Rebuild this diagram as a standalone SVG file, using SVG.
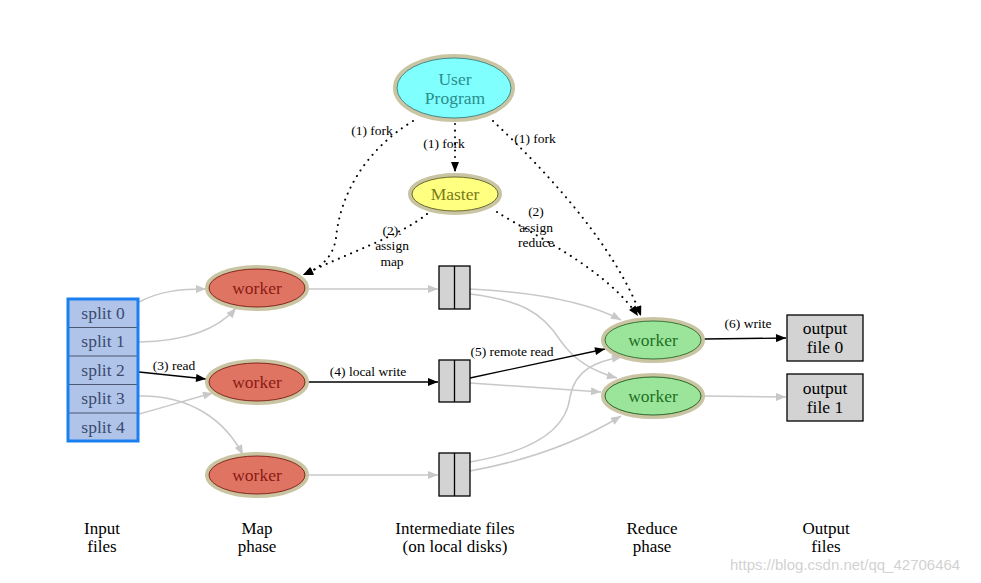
<svg xmlns="http://www.w3.org/2000/svg" width="981" height="583" viewBox="0 0 981 583" font-family="'Liberation Serif', 'DejaVu Serif', 'Times New Roman', serif">
<style>
text{font-family:"Liberation Serif","DejaVu Serif","Times New Roman",serif;text-anchor:middle}
.nt{font-size:17.5px}
.lb{font-size:13.5px;fill:#000}
.ax{font-size:17px;fill:#000}
.halo{stroke:#c9c4a2;stroke-width:4}
.in{fill:none;stroke-width:0.9}
.gray{fill:none;stroke:#c8c8c8;stroke-width:1.5}
.blk{fill:none;stroke:#000;stroke-width:1.3}
.dot{fill:none;stroke:#000;stroke-width:2;stroke-dasharray:0.1 6.5;stroke-linecap:round}
.file{fill:#d3d3d3;stroke:#000;stroke-width:1.3}
text.wm{font-family:"Liberation Sans Narrow","Liberation Sans",Arial,sans-serif;font-size:15px;fill:#d2d2d2;text-anchor:start}
</style>
<defs>
<marker id="ab" viewBox="0 0 10 8" refX="10" refY="4" markerWidth="11" markerHeight="8" markerUnits="userSpaceOnUse" orient="auto"><path d="M0,0 L10,4 L0,8 z" fill="#000"/></marker>
<marker id="ag" viewBox="0 0 10 8" refX="10" refY="4" markerWidth="11" markerHeight="8" markerUnits="userSpaceOnUse" orient="auto"><path d="M0,0 L10,4 L0,8 z" fill="#c8c8c8"/></marker>
</defs>
<rect width="981" height="583" fill="#fff"/>

<g id="connectors">
  <path class="dot" d="M413,121 C365,150 340,195 336,238 C333,258 320,268 303,275" marker-end="url(#ab)"/>
  <path class="dot" d="M455,124 L455,172" marker-end="url(#ab)"/>
  <path class="dot" d="M493,121 C545,170 615,245 641,316" marker-end="url(#ab)"/>
  <path class="dot" d="M427,214 C400,236 345,254 303,275" marker-end="url(#ab)"/>
  <path class="dot" d="M497,212 C535,236 605,268 638,316" marker-end="url(#ab)"/>
  <path class="gray" d="M139,302 C160,291 180,289 206,289" marker-end="url(#ag)"/>
  <path class="gray" d="M139,342 C190,341 220,327 236,308" marker-end="url(#ag)"/>
  <path class="blk" d="M139,372 L206,379" marker-end="url(#ab)"/>
  <path class="gray" d="M139,414 C165,407 190,399 213,393" marker-end="url(#ag)"/>
  <path class="gray" d="M139,396 C190,395 225,420 243,455" marker-end="url(#ag)"/>
  <path class="gray" d="M308,289 L438,289" marker-end="url(#ag)"/>
  <path class="blk" d="M308,382 L438,382" marker-end="url(#ab)"/>
  <path class="gray" d="M308,475 L438,475" marker-end="url(#ag)"/>
  <path class="gray" d="M470,289 C530,292 585,301 621,320" marker-end="url(#ag)"/>
  <path class="gray" d="M470,294 C520,300 542,312 560,340 C575,362 595,372 617,378" marker-end="url(#ag)"/>
  <path class="blk" d="M470,378 L605,349" marker-end="url(#ab)"/>
  <path class="gray" d="M470,383 L601,392" marker-end="url(#ag)"/>
  <path class="gray" d="M470,462 C530,452 566,432 570,397 C575,370 596,361 622,357" marker-end="url(#ag)"/>
  <path class="gray" d="M470,471 C530,460 582,440 621,416" marker-end="url(#ag)"/>
  <path class="blk" d="M704,339 L786,338" marker-end="url(#ab)"/>
  <path class="gray" d="M704,396 L786,397" marker-end="url(#ag)"/>
  <text class="lb" x="372" y="135">(1) fork</text>
  <text class="lb" x="444" y="148">(1) fork</text>
  <text class="lb" x="535" y="143">(1) fork</text>
  <text class="lb" x="392" y="235">(2).</text>
  <text class="lb" x="392" y="250">assign</text>
  <text class="lb" x="392" y="266">map</text>
  <text class="lb" x="536" y="216">(2)</text>
  <text class="lb" x="536" y="232">assign</text>
  <text class="lb" x="536" y="247">reduce</text>
  <text class="lb" x="174" y="370">(3) read</text>
  <text class="lb" x="368" y="376">(4) local write</text>
  <text class="lb" x="512" y="356">(5) remote read</text>
  <text class="lb" x="748" y="328">(6) write</text>
</g>

<g id="user-program">
  <ellipse cx="454" cy="88" rx="59" ry="32" fill="#80ffff" class="halo"/>
  <ellipse cx="454" cy="88" rx="57" ry="30" class="in" stroke="#3a8080"/>
  <text class="nt" x="455" y="85" fill="#2a8c8c">User</text>
  <text class="nt" x="455" y="104" fill="#2a8c8c">Program</text>
</g>

<g id="master">
  <ellipse cx="455" cy="194" rx="45" ry="19" fill="#ffff80" class="halo"/>
  <ellipse cx="455" cy="194" rx="43" ry="17" class="in" stroke="#606020"/>
  <text class="nt" x="455" y="200" fill="#7a7a1a">Master</text>
</g>

<g id="splits">
  <rect x="68" y="299" width="70" height="142" fill="#b0c4ea"/>
  <g stroke="#4a5870" stroke-width="1.2">
    <line x1="68" y1="327.5" x2="138" y2="327.5"/>
    <line x1="68" y1="356" x2="138" y2="356"/>
    <line x1="68" y1="384.5" x2="138" y2="384.5"/>
    <line x1="68" y1="413" x2="138" y2="413"/>
  </g>
  <rect x="68" y="299" width="70" height="142" fill="none" stroke="#1a7ff0" stroke-width="3"/>
  <text class="nt" fill="#3c4a6e" x="103" y="319">split 0</text>
  <text class="nt" fill="#3c4a6e" x="103" y="347">split 1</text>
  <text class="nt" fill="#3c4a6e" x="103" y="376">split 2</text>
  <text class="nt" fill="#3c4a6e" x="103" y="404">split 3</text>
  <text class="nt" fill="#3c4a6e" x="103" y="433">split 4</text>
</g>

<g id="map-worker-1">
  <ellipse cx="257" cy="288" rx="50" ry="21" fill="#e07462" class="halo"/>
  <ellipse cx="257" cy="288" rx="48" ry="19" class="in" stroke="#7a1a10"/>
  <text class="nt" x="257" y="294" fill="#8b1a14">worker</text>
</g>
<g id="map-worker-2">
  <ellipse cx="257" cy="382" rx="50" ry="21" fill="#e07462" class="halo"/>
  <ellipse cx="257" cy="382" rx="48" ry="19" class="in" stroke="#7a1a10"/>
  <text class="nt" x="257" y="388" fill="#8b1a14">worker</text>
</g>
<g id="map-worker-3">
  <ellipse cx="257" cy="475" rx="50" ry="21" fill="#e07462" class="halo"/>
  <ellipse cx="257" cy="475" rx="48" ry="19" class="in" stroke="#7a1a10"/>
  <text class="nt" x="257" y="481" fill="#8b1a14">worker</text>
</g>

<g id="intermediate-1">
  <rect class="file" x="439" y="266" width="31" height="43"/>
  <line x1="454.5" y1="266" x2="454.5" y2="309" stroke="#000" stroke-width="1.3"/>
</g>
<g id="intermediate-2">
  <rect class="file" x="439" y="360" width="31" height="42"/>
  <line x1="454.5" y1="360" x2="454.5" y2="402" stroke="#000" stroke-width="1.3"/>
</g>
<g id="intermediate-3">
  <rect class="file" x="439" y="453" width="31" height="43"/>
  <line x1="454.5" y1="453" x2="454.5" y2="496" stroke="#000" stroke-width="1.3"/>
</g>

<g id="reduce-worker-1">
  <ellipse cx="653" cy="340" rx="50" ry="21" fill="#9be59b" class="halo"/>
  <ellipse cx="653" cy="340" rx="48" ry="19" class="in" stroke="#2a6a2a"/>
  <text class="nt" x="653" y="346" fill="#1f6e1f">worker</text>
</g>
<g id="reduce-worker-2">
  <ellipse cx="653" cy="396" rx="50" ry="21" fill="#9be59b" class="halo"/>
  <ellipse cx="653" cy="396" rx="48" ry="19" class="in" stroke="#1a5a1a"/>
  <text class="nt" x="653" y="402" fill="#1f6e1f">worker</text>
</g>

<g id="output-0">
  <rect class="file" x="787" y="315" width="76" height="46"/>
  <text class="nt" x="825" y="334" fill="#000">output</text>
  <text class="nt" x="825" y="353" fill="#000">file 0</text>
</g>
<g id="output-1">
  <rect class="file" x="787" y="374" width="76" height="47"/>
  <text class="nt" x="825" y="394" fill="#000">output</text>
  <text class="nt" x="825" y="413" fill="#000">file 1</text>
</g>

<g id="axis-labels">
  <text class="ax" x="102" y="534">Input</text>
  <text class="ax" x="102" y="552">files</text>
  <text class="ax" x="257" y="534">Map</text>
  <text class="ax" x="257" y="552">phase</text>
  <text class="ax" x="455" y="534">Intermediate files</text>
  <text class="ax" x="455" y="552">(on local disks)</text>
  <text class="ax" x="652" y="534">Reduce</text>
  <text class="ax" x="652" y="552">phase</text>
  <text class="ax" x="826" y="534">Output</text>
  <text class="ax" x="826" y="552">files</text>
</g>
<text class="wm" x="730" y="570">https://blog.csdn.net/qq_42706464</text>
</svg>
